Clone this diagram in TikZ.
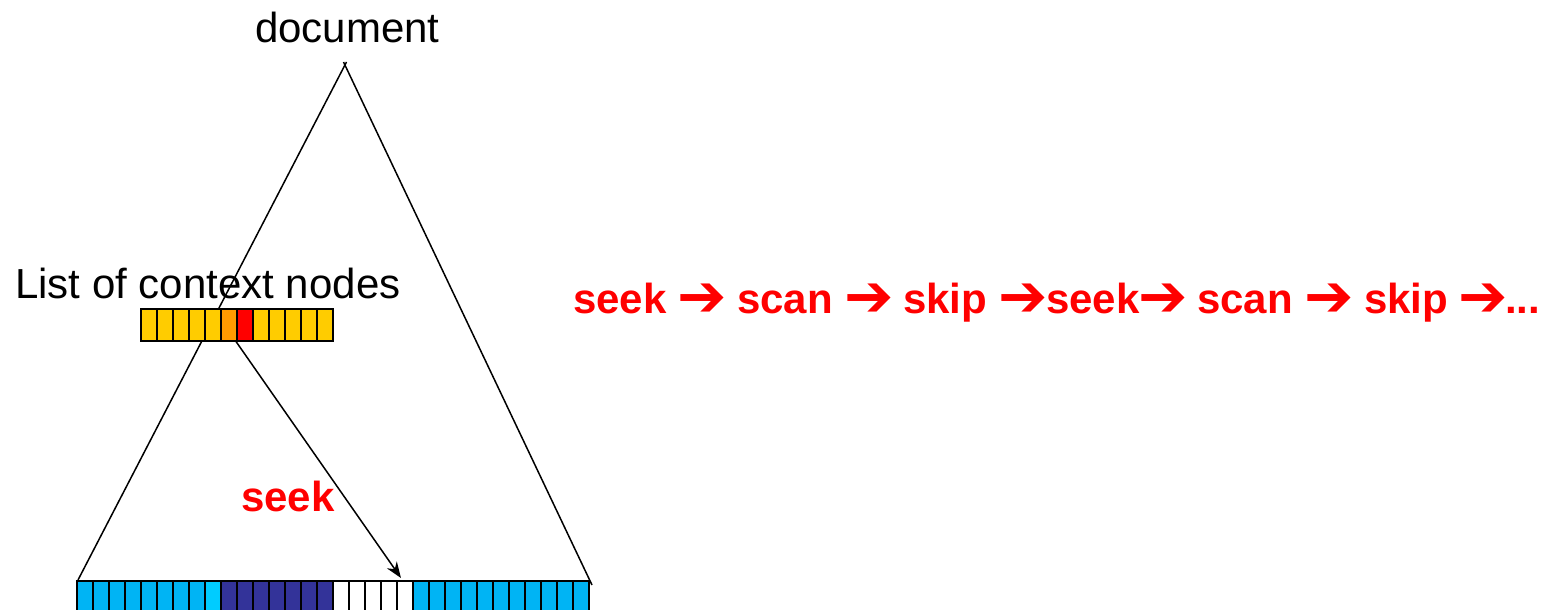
\documentclass[tikz,border=0pt]{standalone}
\usepackage{fontspec}
\setmainfont{Liberation Sans}
\newfontfamily\arrfont{DejaVu Sans}
\usetikzlibrary{arrows.meta}
\definecolor{gold}{HTML}{FFCC00}
\definecolor{orng}{HTML}{FF9900}
\definecolor{lblue}{HTML}{00B4F4}
\definecolor{cblue}{HTML}{00CCFF}
\definecolor{dblue}{HTML}{333399}
\newcommand{\heavyarr}{\makebox[40pt][l]{➔}}
\tikzset{
  cell/.style={draw=black, line width=1.5pt, minimum width=16pt, minimum height=32pt, inner sep=0pt, anchor=north west},
  bcell/.style={cell, minimum height=40pt},
  lbl/.style={inner sep=0pt, anchor=base west, font=\fontsize{42}{50}\selectfont},
  red/.style={lbl, text=red, font=\fontsize{42}{50}\selectfont\bfseries},
  arr/.style={inner sep=0pt, anchor=base west, text=red, font=\fontsize{59}{66}\selectfont\arrfont},
  edge/.style={line width=1.5pt, black}
}
\begin{document}
\begin{tikzpicture}[x=1pt, y=-1pt]
\clip (0,0) rectangle (1550,610);
\fill[white] (0,0) rectangle (1550,610);
% triangle sides
\coordinate (apexL) at (346.5,62);
\coordinate (apexR) at (343.5,62);
\coordinate (botL) at (78,580);
\coordinate (botR) at (592,585);
\draw[edge] (apexL) -- (botL);
\draw[edge] (apexR) -- (botR);
% top list
\foreach \i/\c in {0/gold,1/gold,2/gold,3/gold,4/gold,5/orng,6/red,7/gold,8/gold,9/gold,10/gold,11/gold}{
  \node[cell, fill=\c] (t\i) at ({140+16*\i},308) {};
}
% bottom array
\foreach \i in {0,...,31}{
  \pgfmathsetmacro{\col}{\i<8 ? 1 : (\i<9 ? 2 : (\i<16 ? 3 : (\i<21 ? 4 : 1)))}
  \ifcase\col\relax\or
    \node[bcell, fill=lblue] (b\i) at ({76+16*\i},580) {};
  \or
    \node[bcell, fill=cblue] (b\i) at ({76+16*\i},580) {};
  \or
    \node[bcell, fill=dblue] (b\i) at ({76+16*\i},580) {};
  \or
    \node[bcell, fill=white] (b\i) at ({76+16*\i},580) {};
  \fi
}
% arrow
\coordinate (tgt) at (401,578);
\draw[edge, -{Stealth[length=16pt, width=12pt]}] (t6.south west) -- (tgt);
% labels
\node[lbl] (doc) at (255,43) {document};
\node[lbl] (lst) at (15,298) {List of context nodes};
\node[red] (sk) at (241,511) {seek};
% red sequence
\node[red] (w1) at (573,313) {seek};
\node[arr] (a1) at (677,316.5) {\heavyarr};
\node[red] (w2) at (737,313) {scan};
\node[arr] (a2) at (844,316.5) {\heavyarr};
\node[red] (w3) at (903,313) {skip};
\node[arr] (a3) at (998,316.5) {\heavyarr};
\node[red] (w4) at (1046,313) {seek};
\node[arr] (a4) at (1138,316.5) {\heavyarr};
\node[red] (w5) at (1197,313) {scan};
\node[arr] (a5) at (1304,316.5) {\heavyarr};
\node[red] (w6) at (1364,313) {skip};
\node[arr] (a6) at (1458,316.5) {\heavyarr};
\node[red] (w7) at (1505,313) {...};
\end{tikzpicture}
\end{document}
